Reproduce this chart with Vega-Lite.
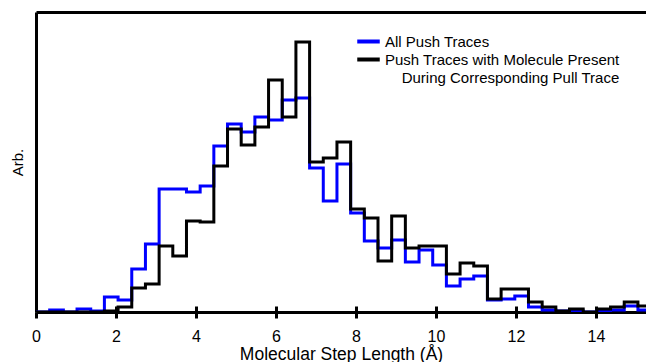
{
  "$schema": "https://vega.github.io/schema/vega-lite/v6.json",
  "width": 610,
  "height": 300,
  "autosize": {"type": "none"},
  "padding": {"left": 36, "top": 12, "right": 0, "bottom": 50},
  "config": {
    "view": {"stroke": null},
    "font": "Liberation Sans",
    "axis": {"grid": false}
  },
  "datasets": {
    "blue": [
      {"x": 0, "v": 0}, {"x": 0.342, "v": 2}, {"x": 0.684, "v": 0}, {"x": 1.026, "v": 3},
      {"x": 1.368, "v": 1}, {"x": 1.71, "v": 15}, {"x": 2.052, "v": 12}, {"x": 2.394, "v": 43},
      {"x": 2.736, "v": 68}, {"x": 3.078, "v": 123}, {"x": 3.42, "v": 123}, {"x": 3.762, "v": 120},
      {"x": 4.104, "v": 126}, {"x": 4.446, "v": 166}, {"x": 4.788, "v": 188}, {"x": 5.13, "v": 180},
      {"x": 5.472, "v": 195}, {"x": 5.814, "v": 192}, {"x": 6.156, "v": 212}, {"x": 6.498, "v": 214},
      {"x": 6.84, "v": 144}, {"x": 7.182, "v": 111}, {"x": 7.524, "v": 148}, {"x": 7.866, "v": 99},
      {"x": 8.208, "v": 71}, {"x": 8.55, "v": 64}, {"x": 8.892, "v": 72}, {"x": 9.234, "v": 50},
      {"x": 9.576, "v": 62}, {"x": 9.918, "v": 47}, {"x": 10.26, "v": 26}, {"x": 10.602, "v": 33},
      {"x": 10.944, "v": 36}, {"x": 11.286, "v": 12}, {"x": 11.628, "v": 13}, {"x": 11.97, "v": 16},
      {"x": 12.312, "v": 5}, {"x": 12.654, "v": 2}, {"x": 12.996, "v": 1}, {"x": 13.338, "v": 1},
      {"x": 13.68, "v": 0}, {"x": 14.022, "v": 1}, {"x": 14.364, "v": 2}, {"x": 14.706, "v": 6},
      {"x": 15.048, "v": 2}, {"x": 15.39, "v": 2}
    ],
    "black": [
      {"x": 0, "v": 0}, {"x": 0.342, "v": 0}, {"x": 0.684, "v": 0}, {"x": 1.026, "v": 0},
      {"x": 1.368, "v": 0}, {"x": 1.71, "v": 1}, {"x": 2.052, "v": 5}, {"x": 2.394, "v": 24},
      {"x": 2.736, "v": 28}, {"x": 3.078, "v": 66}, {"x": 3.42, "v": 56}, {"x": 3.762, "v": 91},
      {"x": 4.104, "v": 90}, {"x": 4.446, "v": 146}, {"x": 4.788, "v": 183}, {"x": 5.13, "v": 167},
      {"x": 5.472, "v": 185}, {"x": 5.814, "v": 232}, {"x": 6.156, "v": 195}, {"x": 6.498, "v": 270},
      {"x": 6.84, "v": 150}, {"x": 7.182, "v": 154}, {"x": 7.524, "v": 170}, {"x": 7.866, "v": 103},
      {"x": 8.208, "v": 94}, {"x": 8.55, "v": 51}, {"x": 8.892, "v": 96}, {"x": 9.234, "v": 64},
      {"x": 9.576, "v": 66}, {"x": 9.918, "v": 66}, {"x": 10.26, "v": 38}, {"x": 10.602, "v": 49},
      {"x": 10.944, "v": 46}, {"x": 11.286, "v": 13}, {"x": 11.628, "v": 23}, {"x": 11.97, "v": 23},
      {"x": 12.312, "v": 10}, {"x": 12.654, "v": 5}, {"x": 12.996, "v": 1}, {"x": 13.338, "v": 3},
      {"x": 13.68, "v": 0}, {"x": 14.022, "v": 3}, {"x": 14.364, "v": 5}, {"x": 14.706, "v": 10},
      {"x": 15.048, "v": 6}, {"x": 15.39, "v": 6}
    ]
  },
  "resolve": {"axis": {"x": "independent", "y": "independent"}},
  "layer": [
    {
      "data": {"name": "blue"},
      "mark": {"type": "line", "interpolate": "step-after", "strokeWidth": 3, "clip": true, "strokeJoin": "miter"},
      "encoding": {
        "x": {
          "field": "x", "type": "quantitative",
          "scale": {"domain": [0, 15.25], "nice": false, "zero": false},
          "axis": {
            "orient": "bottom", "values": [0, 2, 4, 6, 8, 10, 12, 14],
            "domainColor": "black", "domainWidth": 3,
            "tickColor": "black", "tickWidth": 3, "tickSize": 6,
            "labelFontSize": 16, "labelColor": "black", "labelPadding": 10, "labelFlush": false,
            "title": "Molecular Step Length (Å)", "titleFontSize": 17.5, "titleFontWeight": "normal",
            "titleColor": "black", "titlePadding": 1
          }
        },
        "y": {
          "field": "v", "type": "quantitative",
          "scale": {"domain": [0, 300], "nice": false},
          "axis": {
            "orient": "left", "domainColor": "black", "domainWidth": 3,
            "ticks": false, "labels": false,
            "title": "Arb.", "titleFontSize": 15, "titleFontWeight": "normal",
            "titleColor": "black", "titlePadding": 11
          }
        },
        "color": {
          "datum": "All Push Traces",
          "type": "nominal",
          "scale": {
            "domain": ["All Push Traces", "Push Traces with Molecule Present", "\u200b\u00a0\u00a0\u00a0\u00a0During Corresponding Pull Trace"],
            "range": ["#0000ff", "#000000", "rgba(0,0,0,0)"]
          },
          "legend": {
            "title": null, "orient": "none", "legendX": 323, "legendY": 20,
            "symbolType": "M-1.5,0L1.5,0", "symbolStrokeWidth": 4, "symbolSize": 225,
            "labelFontSize": 15, "labelColor": "black", "labelOffset": 7, "labelLimit": 0,
            "rowPadding": 0, "padding": 0
          }
        }
      }
    },
    {
      "data": {"name": "black"},
      "mark": {"type": "line", "interpolate": "step-after", "strokeWidth": 3, "clip": true, "strokeJoin": "miter"},
      "encoding": {
        "x": {
          "field": "x", "type": "quantitative",
          "axis": {
            "orient": "bottom", "values": [0, 2, 4, 6, 8, 10, 12, 14],
            "domain": false, "labels": false, "title": null,
            "tickColor": "black", "tickWidth": 3, "tickSize": -6
          }
        },
        "y": {"field": "v", "type": "quantitative", "axis": null},
        "color": {"datum": "Push Traces with Molecule Present", "type": "nominal"}
      }
    },
    {
      "data": {"values": []},
      "mark": {"type": "point", "opacity": 0},
      "encoding": {
        "x": {
          "field": "x", "type": "quantitative",
          "axis": {
            "orient": "top", "domainColor": "black", "domainWidth": 3,
            "ticks": false, "labels": false, "title": null
          }
        }
      }
    }
  ]
}
